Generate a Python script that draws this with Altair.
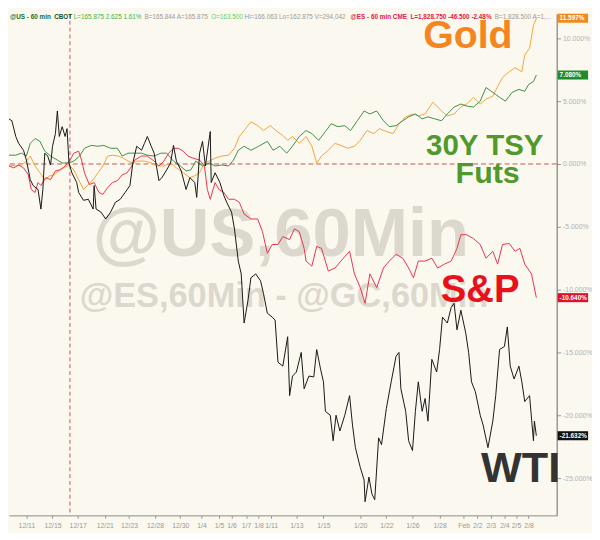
import altair as alt
import pandas as pd

# ---------------- data ----------------
series_names = ["Gold", "30Y TSY", "S&P", "WTI"]
series_colors = ["#f3a43c", "#3f8f45", "#e8344a", "#151515"]

wti_t = [0,3,7,10,15,18,22,25,30,33,35,37,40,43,45,48,50,52,55,58,60,62,65,70,72,77,82,87,88,90,
         95,100,105,110,115,120,125,128,132,137,140,143,147,150,155,158,163,167,170,173,178,183,187,192,194,197,200,203,208,209,
         213,218,222,225,230,233,237,240,243,247,250,255,260,263,267,272,275,278,283,288,290,293,297,302,305,310,315,318,322,325,
         327,332,335,338,342,347,352,355,358,363,367,368,372,375,378,382,385,390,395,400,403,405,410,413,417,420,423,427,430,433,
         437,442,445,448,453,457,460,463,467,472,475,478,482,487,490,495,500,503,507,512,515,518,522,527,530,533,538,542,543,545]
wti_v = [3.59,3.44,2.19,1.64,1.09,0.31,-1.25,-1.72,-2.03,-3.59,-2.03,0.86,0.63,-0.08,1.41,2.42,4.22,2.19,2.97,2.19,
         2.81,0.08,-0.70,-1.48,-2.27,-2.89,-2.81,-3.59,-1.72,-3.59,-3.83,-4.38,-3.83,-3.05,-2.81,-2.27,-1.72,0.08,1.41,1.09,
         1.64,2.19,1.41,0.86,-1.33,-1.09,-0.47,0.08,1.48,0.23,-0.55,-2.03,-1.09,-1.48,-2.66,0.86,1.80,-0.16,2.58,-1.48,
         -0.70,-1.48,-2.50,-3.05,-3.83,-5.16,-7.73,-8.75,-12.66,-10.86,-9.06,-8.75,-9.30,-10.31,-11.88,-12.19,-12.42,-15.78,-16.09,-13.75,
         -18.44,-16.88,-16.56,-15.00,-17.89,-16.88,-16.95,-14.77,-16.33,-17.34,-19.69,-20.00,-22.03,-20.00,-21.25,-20.00,-18.44,-20.78,-22.58,-24.14,
         -25.16,-26.88,-24.92,-26.25,-26.72,-21.80,-22.34,-19.45,-17.34,-15.31,-15.00,-17.89,-19.69,-22.03,-22.81,-19.69,-17.34,-19.69,-18.67,-20.47,
         -15.55,-16.56,-14.77,-12.19,-12.66,-11.41,-11.09,-13.20,-11.64,-13.44,-15.00,-17.34,-18.13,-20.00,-20.78,-22.58,-20.47,-18.44,-14.77,-14.53,
         -12.97,-16.09,-17.11,-16.09,-17.34,-18.91,-18.44,-22.03,-20.47,-21.63]

spx_t = [0,5,10,15,20,23,27,30,33,38,43,48,53,58,63,67,72,75,78,83,88,93,97,102,107,112,117,122,127,130,
         137,143,150,155,160,165,170,175,180,185,190,197,202,205,208,213,217,222,227,233,238,243,250,257,262,267,272,278,283,290,
         295,300,305,307,313,318,323,330,337,343,352,357,363,368,373,380,387,393,400,407,413,418,423,430,437,443,450,457,463,467,
         473,480,487,493,500,505,510,517,523,528,533,540,545]
spx_v = [-0.16,-0.31,-0.08,-0.31,-0.86,-2.03,-2.27,-1.48,-1.72,-1.09,-1.25,-0.55,-0.47,-0.16,0.31,0.86,1.02,0.31,-0.70,-1.64,
         -1.48,-2.27,-2.42,-1.88,-1.48,-1.33,-0.86,-0.70,-0.16,0.31,0.63,0.63,0.23,-0.16,0.23,0.86,1.25,1.25,1.02,0.63,
         0.47,0.31,-0.16,-2.03,-2.81,-1.48,-2.03,-2.27,-2.81,-2.81,-3.05,-3.98,-4.38,-4.38,-5.39,-7.11,-6.41,-6.41,-5.78,-6.02,
         -5.16,-5.39,-6.72,-7.73,-8.13,-6.56,-6.72,-8.52,-8.28,-7.73,-6.95,-8.75,-9.84,-11.09,-8.75,-9.84,-8.28,-7.73,-7.19,-7.50,
         -8.28,-9.06,-7.73,-7.73,-7.50,-8.28,-7.97,-7.73,-6.72,-5.63,-5.63,-5.94,-6.41,-7.50,-6.95,-7.97,-6.41,-6.33,-6.95,-6.72,
         -7.97,-8.75,-10.64]

gold_t = [0,7,13,18,22,27,32,37,42,47,52,57,62,67,72,77,82,87,92,97,102,107,113,118,123,128,133,140,147,153,
          160,167,173,180,187,192,197,202,207,213,220,227,233,238,243,250,257,263,270,277,283,288,293,300,307,313,318,323,330,337,
          343,350,357,363,370,377,383,390,397,403,410,417,423,430,438,447,453,460,467,473,480,487,493,500,505,510,517,523,530,533,
          538,542,545]
gold_v = [-0.08,-0.16,-0.08,0.23,0.63,-0.16,-0.70,-1.25,-0.94,-0.86,-0.47,-0.31,-0.08,-0.47,-1.25,-2.03,-1.64,-1.25,-0.70,-0.16,
          0.63,0.70,0.63,0.47,0.23,0.08,0.23,0.23,0.08,-0.16,-0.16,0.08,-0.31,-0.70,-1.09,-0.94,-0.70,0.08,0.23,0.47,
          0.63,0.70,1.25,2.19,2.66,3.36,3.05,2.66,3.05,2.58,2.27,1.88,2.19,1.64,2.19,1.41,0.08,0.63,1.09,1.64,
          1.48,1.25,1.41,1.88,2.66,2.42,2.81,2.58,2.42,3.20,3.75,3.98,3.83,3.98,4.92,4.22,3.83,3.98,4.53,4.77,
          5.31,4.77,5.16,5.39,6.17,6.88,7.34,7.66,7.34,8.67,9.22,11.02,11.60]

tsy_t = [0,7,13,18,22,27,32,37,43,50,55,62,67,73,78,85,92,98,105,112,117,123,130,137,143,150,157,163,170,177,
         183,188,193,200,207,213,220,227,232,237,243,250,258,267,273,280,287,293,300,307,313,320,327,333,340,347,353,360,367,373,
         380,387,393,400,407,413,420,427,433,440,447,453,460,467,473,480,487,493,500,507,513,520,527,533,537,542,545]
tsy_v = [0.70,0.70,0.86,0.63,1.64,2.03,1.80,1.02,0.63,0.31,0.08,0.08,0.23,0.63,1.25,1.48,1.41,1.48,1.25,1.25,
         0.63,0.86,0.86,0.86,0.70,0.63,0.86,0.86,0.23,-0.16,-0.55,-0.47,0.23,-0.16,0.08,-0.16,-0.08,-0.16,0.31,1.09,
         1.41,1.09,1.41,1.80,1.09,1.41,0.86,1.41,2.19,2.66,2.42,1.88,2.58,3.20,2.97,3.05,2.66,3.44,4.22,3.98,
         4.22,3.44,2.97,3.05,3.44,3.75,3.98,3.59,3.75,3.59,3.44,3.98,4.53,4.77,4.61,4.53,5.00,6.09,5.70,5.31,
         5.00,5.70,5.94,5.78,6.33,6.56,7.08]

x_tick_pos = [18,45,71,99,124,151,177,199,217,230,245,258,271,297,325,363,390,417,445,470,484,498,512,524,537]
x_tick_labels = ["12/11","12/15","12/17","12/21","12/23","12/28","12/30","1/4","1/5","1/6","1/7","1/8","1/11",
                 "1/13","1/15","1/20","1/22","1/26","1/28","Feb","2/2","2/3","2/4","2/5","2/8"]
y_ticks = [10, 5, 0, -5, -10, -15, -20, -25]
fed_marker_t = [63]

last_labels = ["11.597%", "7.080%", "-10.640%", "-21.632%"]
box_colors = ["#f08a1c", "#1e8c2a", "#e0102a", "#111111"]

# ---------------- build tables ----------------
rows = []
for name, ts, vs in [("Gold", gold_t, gold_v), ("30Y TSY", tsy_t, tsy_v),
                     ("S&P", spx_t, spx_v), ("WTI", wti_t, wti_v)]:
    for t, v in zip(ts, vs):
        rows.append({"series": name, "t": t, "v": v})
df = pd.DataFrame(rows)

last_df = pd.DataFrame({
    "series": series_names,
    "v": [gold_v[-1], tsy_v[-1], spx_v[-1], wti_v[-1]],
    "label": last_labels,
})

W, H = 558, 511
YDOM = [-27.97, 11.95]
FONT = "Liberation Sans"
BG = "#fbf8ef"

xscale = alt.Scale(domain=[0, 566], nice=False, zero=False)
yscale = alt.Scale(domain=YDOM, nice=False, zero=False)

pos_js = "[" + ",".join(str(p) for p in x_tick_pos) + "]"
lab_js = "[" + ",".join("'" + l + "'" for l in x_tick_labels) + "]"
x_label_expr = lab_js + "[indexof(" + pos_js + ", datum.value)]"

x_axis = alt.Axis(values=x_tick_pos, labelExpr=x_label_expr, title=None, grid=False,
                  labelFontSize=7, labelColor="#9a9a9a", labelFont=FONT, tickSize=3,
                  tickColor="#999999", domainColor="#8a8a8a", labelPadding=3, labelFlush=False,
                  labelOverlap=False)
y_axis = alt.Axis(orient="right", values=y_ticks,
                  labelExpr="replace(format(datum.value, '.3f'), '\u2212', '-') + '%'",
                  title=None, grid=False, labelFontSize=7, labelColor="#b3b3b3", labelFont=FONT,
                  tickSize=4, tickColor="#9a9a9a", domainColor="#666666", labelPadding=2,
                  labelOverlap=False)

# watermark
wm1 = alt.Chart(pd.DataFrame({"s": ["@US,60Min"]})).mark_text(
    font=FONT, fontSize=70, fontWeight="bold", color="#dcd8ce", align="center", baseline="alphabetic"
).encode(x=alt.value(277), y=alt.value(247), text="s:N")
wm2 = alt.Chart(pd.DataFrame({"s": ["@ES,60Min - @GC,60Min"]})).mark_text(
    font=FONT, fontSize=35, fontWeight="bold", color="#dcd8ce", align="left", baseline="alphabetic"
).encode(x=alt.value(72), y=alt.value(299), text="s:N")

zero_rule = alt.Chart(pd.DataFrame({"v": [0]})).mark_rule(
    color="#c8564f", strokeWidth=1, strokeDash=[5, 3]
).encode(y=alt.Y("v:Q", scale=yscale, axis=y_axis))
fed_rule = alt.Chart(pd.DataFrame({"t": fed_marker_t})).mark_rule(
    color="#d0505a", strokeWidth=1, strokeDash=[4, 3]
).encode(x=alt.X("t:Q", scale=xscale, axis=x_axis))

lines = alt.Chart(df).mark_line(strokeWidth=1, clip=True, interpolate="linear").encode(
    x=alt.X("t:Q", scale=xscale, axis=x_axis),
    y=alt.Y("v:Q", scale=yscale, axis=y_axis),
    color=alt.Color("series:N", scale=alt.Scale(domain=series_names, range=series_colors), legend=None),
    order=alt.Order("t:Q"),
)

def label(txt, x, y, size, color):
    return alt.Chart(pd.DataFrame({"s": [txt]})).mark_text(
        font=FONT, fontSize=size, fontWeight="bold", color=color, align="left", baseline="alphabetic"
    ).encode(x=alt.value(x), y=alt.value(y), text="s:N")

labels = [
    label("Gold", 422, 35, 40, "#f5861f"),
    label("30Y TSY", 425, 144, 30, "#4f9a2b"),
    label("Futs", 455, 172, 31, "#4f9a2b"),
    label("S&P", 440, 294, 39, "#e8101a"),
    label("WTI", 481, 477, 44, "#333333"),
]

# header line
header_parts = [
    ("@US - 60 min", 1, "#1d6e1d", "bold"),
    ("CBOT", 46, "#1d4e1d", "bold"),
    ("L=165.875   2.625   1.61%", 66, "#3cb43c", "normal"),
    ("B=165.844   A=165.875", 138, "#9a9a9a", "normal"),
    ("O=163.500", 206, "#5fcf5f", "normal"),
    ("Hi=166.063   Lo=162.875   V=294,042", 240, "#9a9a9a", "normal"),
    ("@ES - 60 min   CME", 348, "#e0203a", "bold"),
    ("L=1,828.750   -46.500   -2.48%", 409, "#e0203a", "bold"),
    ("B=1,828.500   A=1,...", 495, "#9a9a9a", "normal"),
]
header = [
    alt.Chart(pd.DataFrame({"s": [t]})).mark_text(
        font=FONT, fontSize=6.5, fontWeight=w, color=c, align="left", baseline="alphabetic"
    ).encode(x=alt.value(x), y=alt.value(5), text="s:N")
    for t, x, c, w in header_parts
]

# last-value boxes on the right axis
boxes = alt.Chart(last_df).transform_calculate(
    hi="datum.v + 0.36", lo="datum.v - 0.36"
).mark_rect(clip=False).encode(
    x=alt.value(W + 1), x2=alt.value(W + 32),
    y=alt.Y("hi:Q", scale=yscale, axis=y_axis), y2="lo:Q",
    color=alt.Color("series:N", scale=alt.Scale(domain=series_names, range=box_colors), legend=None),
)
box_text = alt.Chart(last_df).mark_text(
    font=FONT, fontSize=6.5, color="white", align="left", baseline="middle", fontWeight="bold"
).encode(x=alt.value(W + 3), y=alt.Y("v:Q", scale=yscale, axis=y_axis), text="label:N")

chart = alt.layer(wm1, wm2, zero_rule, fed_rule, lines, *labels, *header, boxes, box_text).resolve_scale(
    color="independent"
).properties(
    width=W, height=H, background=BG, padding=0
).configure_view(stroke=None)

chart.save("out.html", embed_options={"renderer": "svg", "actions": False})
